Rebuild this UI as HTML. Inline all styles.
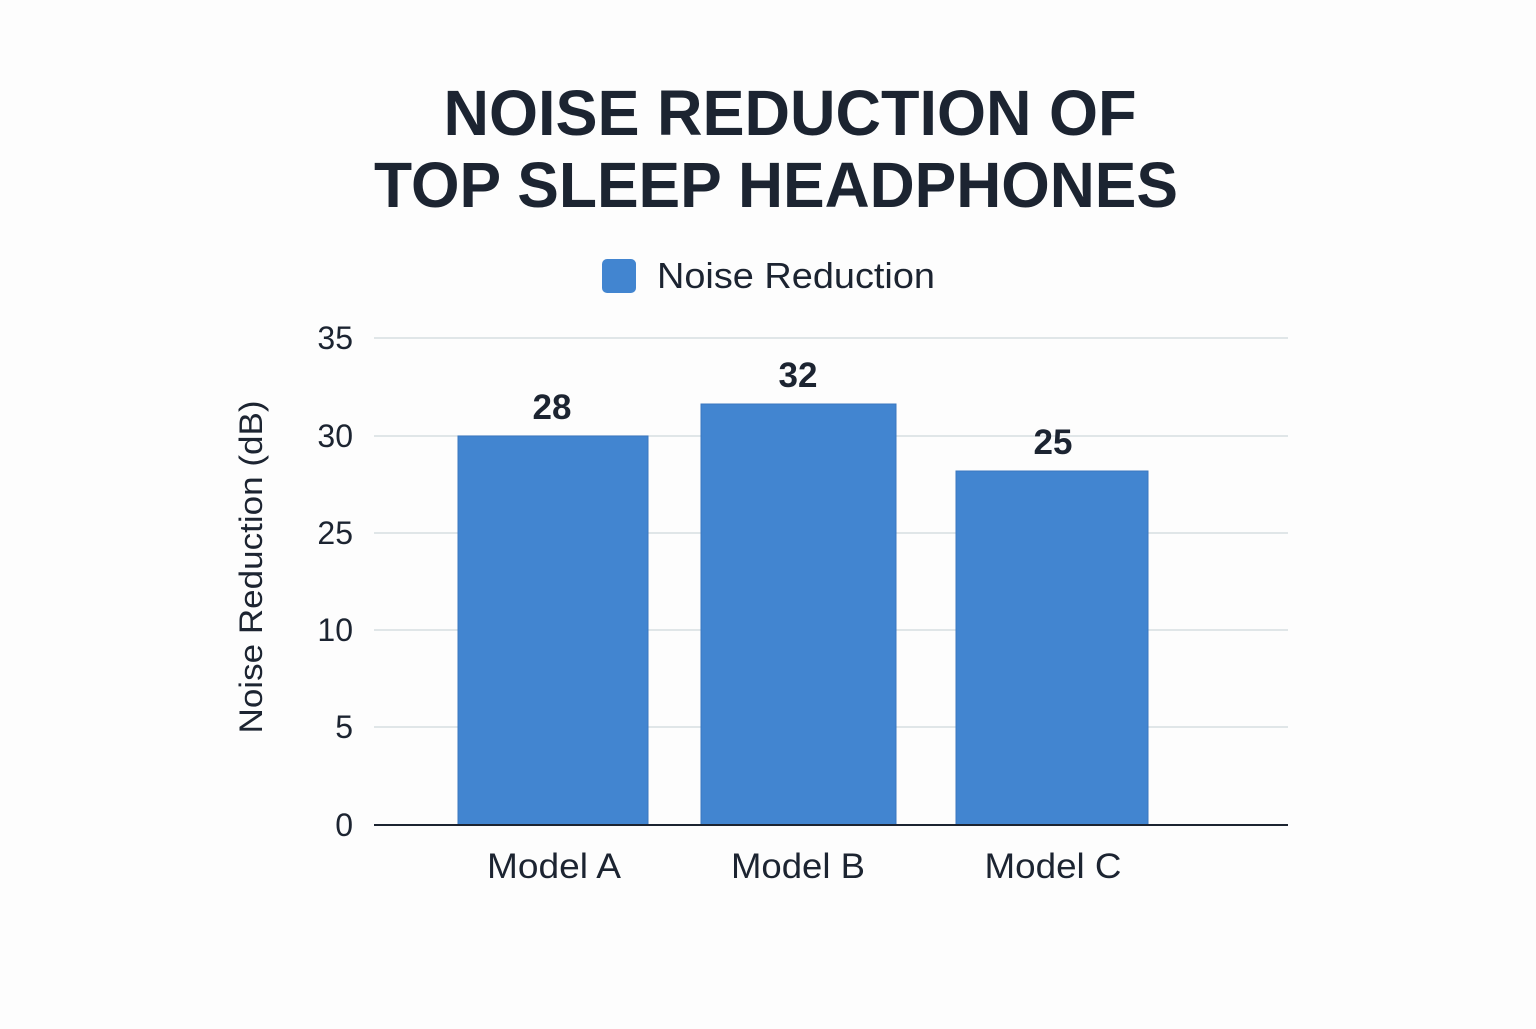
<!DOCTYPE html>
<html><head><meta charset="utf-8"><style>
html,body{margin:0;padding:0;background:#fdfdfd;}
body{width:1536px;height:1024px;overflow:hidden;}
</style></head><body>
<svg width="1536" height="1024" xmlns="http://www.w3.org/2000/svg" font-family="Liberation Sans, DejaVu Sans, sans-serif">
<rect width="1536" height="1024" fill="#fdfdfd"/>
<text x="790" y="135" text-anchor="middle" font-size="64" font-weight="bold" fill="#1c2431" textLength="693" lengthAdjust="spacingAndGlyphs">NOISE REDUCTION OF</text>
<text x="776" y="207" text-anchor="middle" font-size="64" font-weight="bold" fill="#1c2431" textLength="804" lengthAdjust="spacingAndGlyphs">TOP SLEEP HEADPHONES</text>
<rect x="602" y="259" width="34" height="34" rx="5" fill="#4285d0"/>
<text x="657" y="288" font-size="36" fill="#1c2431" textLength="278" lengthAdjust="spacingAndGlyphs">Noise Reduction</text>
<g stroke="#d6dee2" stroke-width="1.5">
<line x1="374" y1="338" x2="1288" y2="338"/>
<line x1="374" y1="436" x2="1288" y2="436"/>
<line x1="374" y1="533" x2="1288" y2="533"/>
<line x1="374" y1="630" x2="1288" y2="630"/>
<line x1="374" y1="727" x2="1288" y2="727"/>
</g>
<g font-size="32" fill="#1c2431" text-anchor="end">
<text x="353" y="349">35</text>
<text x="353" y="447">30</text>
<text x="353" y="544">25</text>
<text x="353" y="641">10</text>
<text x="353" y="738">5</text>
<text x="353" y="836">0</text>
</g>
<text transform="translate(262,567) rotate(-90)" text-anchor="middle" font-size="32" fill="#1c2431" textLength="333" lengthAdjust="spacingAndGlyphs">Noise Reduction (dB)</text>
<g fill="#4285d0" stroke="#3a78c0" stroke-width="1">
<rect x="458" y="436" width="190" height="389"/>
<rect x="701" y="404" width="195" height="421"/>
<rect x="956" y="471" width="192" height="354"/>
</g>
<line x1="374" y1="825" x2="1288" y2="825" stroke="#1c2431" stroke-width="2"/>
<g font-size="35" font-weight="bold" fill="#1c2431" text-anchor="middle">
<text x="552" y="419">28</text>
<text x="798" y="387">32</text>
<text x="1053" y="454">25</text>
</g>
<g font-size="35" fill="#1c2431" text-anchor="middle">
<text x="554" y="878" textLength="134" lengthAdjust="spacingAndGlyphs">Model A</text>
<text x="798" y="878" textLength="134" lengthAdjust="spacingAndGlyphs">Model B</text>
<text x="1053" y="878" textLength="137" lengthAdjust="spacingAndGlyphs">Model C</text>
</g>
</svg>
</body></html>
